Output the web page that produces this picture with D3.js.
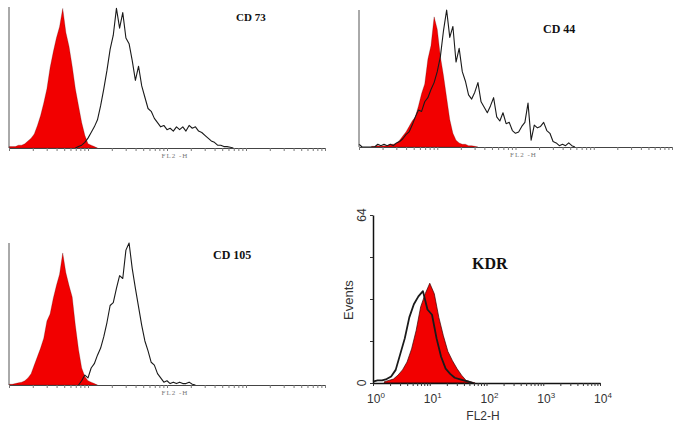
<!DOCTYPE html>
<html>
<head>
<meta charset="utf-8">
<script src="https://cdn.jsdelivr.net/npm/d3@7"></script>
<style>
  body { margin: 0; background: #fff; }
  svg { display: block; }
</style>
</head>
<body>
<svg id="svgRoot" width="679" height="435"></svg>
<script>
// histogram counts (x in log10 decades, y in % of panel max)
const step = 0.04
const kdrStep = 0.08

// CD 73
const cd73IsoStart = 0
const cd73Iso = [1, 1, 1, 2, 2, 3, 5, 7, 10, 16, 23, 32, 42, 57, 68, 78, 86, 99, 82, 72, 58, 42, 30, 18, 9, 3, 2, 1, 0]
const cd73PosStart = 0.84
const cd73Pos = [0, 1, 2, 4, 7, 11, 15, 20, 30, 42, 55, 70, 80, 99, 85, 96, 78, 74, 62, 48, 58, 44, 36, 28, 26, 21, 18, 15, 16, 13,
  14, 12, 15, 13, 15, 12, 16, 14, 15, 12, 11, 9, 7, 5, 4, 2, 2, 1, 1, 0.5, 0]

// CD 44
const cd44IsoStart = 0.16
const cd44Iso = [0.5, 0.5, 1, 0.5, 1, 1, 2, 2, 3, 5, 8, 11, 15, 19, 22, 30, 39, 46, 64, 74, 95, 86, 66, 52, 36, 20, 10, 5, 3, 2, 2, 1, 1, 0.5, 0]
const cd44PosStart = 0
const cd44Pos = [2, 0, 0, 0, 0, 0, 2, 1, 2, 1, 2, 1, 3, 4, 6, 9, 11, 16, 22, 27, 26, 33, 36, 42, 47, 55, 66, 85, 100, 80,
  88, 62, 72, 55, 48, 38, 35, 40, 47, 33, 29, 25, 30, 36, 22, 19, 25, 17, 18, 12, 10, 11, 15, 18, 32, 5, 16, 14, 15, 18,
  12, 10, 4, 3, 1, 2, 1, 3, 1, 0]

// CD 105
const cd105IsoStart = 0
const cd105Iso = [0.5, 0.5, 1, 1.5, 2, 3, 5, 8, 14, 20, 26, 33, 45, 50, 61, 70, 78, 93, 79, 70, 62, 42, 25, 12, 6, 3, 2, 1, 0]
const cd105PosStart = 0.88
const cd105Pos = [0, 3, 7, 5, 12, 15, 21, 26, 34, 44, 56, 58, 68, 77, 75, 95, 100, 82, 68, 55, 42, 31, 24, 16, 14, 8, 5, 2, 3, 1,
  2, 1, 2, 1, 1, 2, 0.5, 0]

// KDR (events, 0-64)
const kdrIsoStart = 0.2
const kdrIso = [0.5, 1, 1.5, 3, 5, 8, 13, 20, 29, 34, 38, 34, 25, 18, 12, 8.5, 5.5, 3, 1, 0.5, 0]
const kdrPosStart = 0
const kdrPos = [0.5, 1, 1, 1.5, 2.5, 5, 11, 17, 25, 30, 33, 35, 28, 26, 17, 10, 5.5, 3.5, 2, 1.5, 1, 0.5, 0]

const kdrYTicks = [0, 16, 32, 48, 64]
const kdrXTicks = [1, 10, 100, 1000, 10000]
const kdrXLabels = ["0", "1", "2", "3", "4"]

let svg = d3.select("#svgRoot")
const red = "#f20000"

function toPoints(start, values, st) {
  return values.map((v, i) => [start + i * st, v])
}

function drawPanel(p) {
  let g = svg.append("g")
  let x = d3.scaleLog().domain([1, 10000]).range([p.left, p.right])
  let y = d3.scaleLinear().domain([0, p.ymax]).range([p.bottom, p.top])

  let area = d3.area()
    .x((d) => x(Math.pow(10, d[0])))
    .y0(y(0))
    .y1((d) => y(d[1]))
  let line = d3.line()
    .x((d) => x(Math.pow(10, d[0])))
    .y((d) => y(d[1]))

  g.append("path")
    .attr("d", area(toPoints(p.isoStart, p.iso, p.step)))
    .attr("fill", red)
    .attr("stroke", p.isoStroke)
    .attr("stroke-width", 0.7)

  g.append("path")
    .attr("d", line(toPoints(p.posStart, p.pos, p.step)))
    .attr("fill", "none")
    .attr("stroke", "#1a1a1a")
    .attr("stroke-width", p.lineWidth)
    .attr("stroke-linejoin", "round")

  return { g: g, x: x, y: y }
}

function plainAxes(p, s) {
  // faint log ticks, no numbers
  s.g.append("g")
    .attr("transform", "translate(0," + p.bottom + ")")
    .call(d3.axisBottom(s.x).tickValues(s.x.ticks()).tickSize(3).tickSizeOuter(0).tickFormat(""))
    .call((a) => a.select(".domain").attr("stroke", "#444"))
    .call((a) => a.selectAll(".tick line").attr("stroke", "#777"))
  s.g.append("line")
    .attr("x1", p.left).attr("x2", p.left)
    .attr("y1", p.top).attr("y2", p.bottom)
    .attr("stroke", "#555")
  s.g.append("text")
    .attr("x", (p.left + p.right) / 2 + 8)
    .attr("y", p.bottom + 10)
    .attr("text-anchor", "middle")
    .attr("font-family", "Liberation Serif, serif")
    .attr("font-size", "7px")
    .attr("letter-spacing", "1px")
    .attr("fill", "#777")
    .text("FL2 -H")
  s.g.append("text")
    .attr("x", p.labelX)
    .attr("y", p.labelY)
    .attr("font-family", "Liberation Serif, serif")
    .attr("font-weight", "bold")
    .attr("font-size", p.labelSize)
    .attr("fill", "#111")
    .text(p.label)
}

const panels = [
  { left: 9, right: 325, top: 7, bottom: 148, ymax: 100, step: step, isoStart: cd73IsoStart, iso: cd73Iso,
    posStart: cd73PosStart, pos: cd73Pos, label: "CD 73", labelX: 236, labelY: 21, labelSize: "11px" },
  { left: 359, right: 672, top: 10, bottom: 147, ymax: 100, step: step, isoStart: cd44IsoStart, iso: cd44Iso,
    posStart: cd44PosStart, pos: cd44Pos, label: "CD 44", labelX: 543, labelY: 33, labelSize: "12px" },
  { left: 9, right: 325, top: 243, bottom: 385, ymax: 100, step: step, isoStart: cd105IsoStart, iso: cd105Iso,
    posStart: cd105PosStart, pos: cd105Pos, label: "CD 105", labelX: 213, labelY: 259, labelSize: "12px" },
]

panels.forEach((p) => {
  p.isoStroke = "rgba(70,0,0,0.35)"
  p.lineWidth = 1.1
  let s = drawPanel(p)
  plainAxes(p, s)
})

// KDR panel with real axes
const kp = { left: 373, right: 600, top: 215, bottom: 383, ymax: 64, step: kdrStep, isoStart: kdrIsoStart, iso: kdrIso,
  posStart: kdrPosStart, pos: kdrPos, isoStroke: "#3a0000", lineWidth: 1.8 }
let ks = drawPanel(kp)

ks.g.append("g")
  .attr("transform", "translate(0," + kp.bottom + ")")
  .call(d3.axisBottom(ks.x).tickValues(ks.x.ticks()).tickSize(3).tickSizeOuter(0).tickFormat(""))
  .call((a) => a.select(".domain").attr("stroke", "#111").attr("stroke-width", 1.5))
  .call((a) => a.selectAll(".tick line").attr("stroke", "#333"))

ks.g.append("g")
  .attr("transform", "translate(" + kp.left + ",0)")
  .call(d3.axisLeft(ks.y).tickValues(kdrYTicks).tickSize(3).tickSizeOuter(0).tickFormat(""))
  .call((a) => a.select(".domain").attr("stroke", "#111").attr("stroke-width", 1.5))
  .call((a) => a.selectAll(".tick line").attr("stroke", "#333"))

let xl = ks.g.selectAll(".xlab").data(kdrXTicks).enter()
  .append("text")
  .attr("class", "xlab")
  .attr("x", (d) => ks.x(d) + 3)
  .attr("y", 403)
  .attr("text-anchor", "middle")
  .attr("font-family", "Liberation Sans, Arial, sans-serif")
  .attr("font-size", "12px")
  .attr("fill", "#333")
xl.append("tspan").text("10")
xl.append("tspan")
  .attr("dy", -5)
  .attr("font-size", "8px")
  .text((d, i) => kdrXLabels[i])

ks.g.selectAll(".ylab").data([0, 64]).enter()
  .append("text")
  .attr("class", "ylab")
  .attr("transform", (d) => "translate(366," + ks.y(d) + ") rotate(-90)")
  .attr("text-anchor", "middle")
  .attr("font-family", "Liberation Sans, Arial, sans-serif")
  .attr("font-size", "12px")
  .attr("fill", "#333")
  .text((d) => d)

ks.g.append("text")
  .attr("transform", "translate(353,300) rotate(-90)")
  .attr("text-anchor", "middle")
  .attr("font-family", "Liberation Sans, Arial, sans-serif")
  .attr("font-size", "13px")
  .attr("fill", "#333")
  .text("Events")

ks.g.append("text")
  .attr("x", 483)
  .attr("y", 420)
  .attr("text-anchor", "middle")
  .attr("font-family", "Liberation Sans, Arial, sans-serif")
  .attr("font-size", "12px")
  .attr("fill", "#333")
  .text("FL2-H")

ks.g.append("text")
  .attr("x", 472)
  .attr("y", 269)
  .attr("font-family", "Liberation Serif, serif")
  .attr("font-weight", "bold")
  .attr("font-size", "16px")
  .attr("fill", "#111")
  .text("KDR")
</script>
</body>
</html>
